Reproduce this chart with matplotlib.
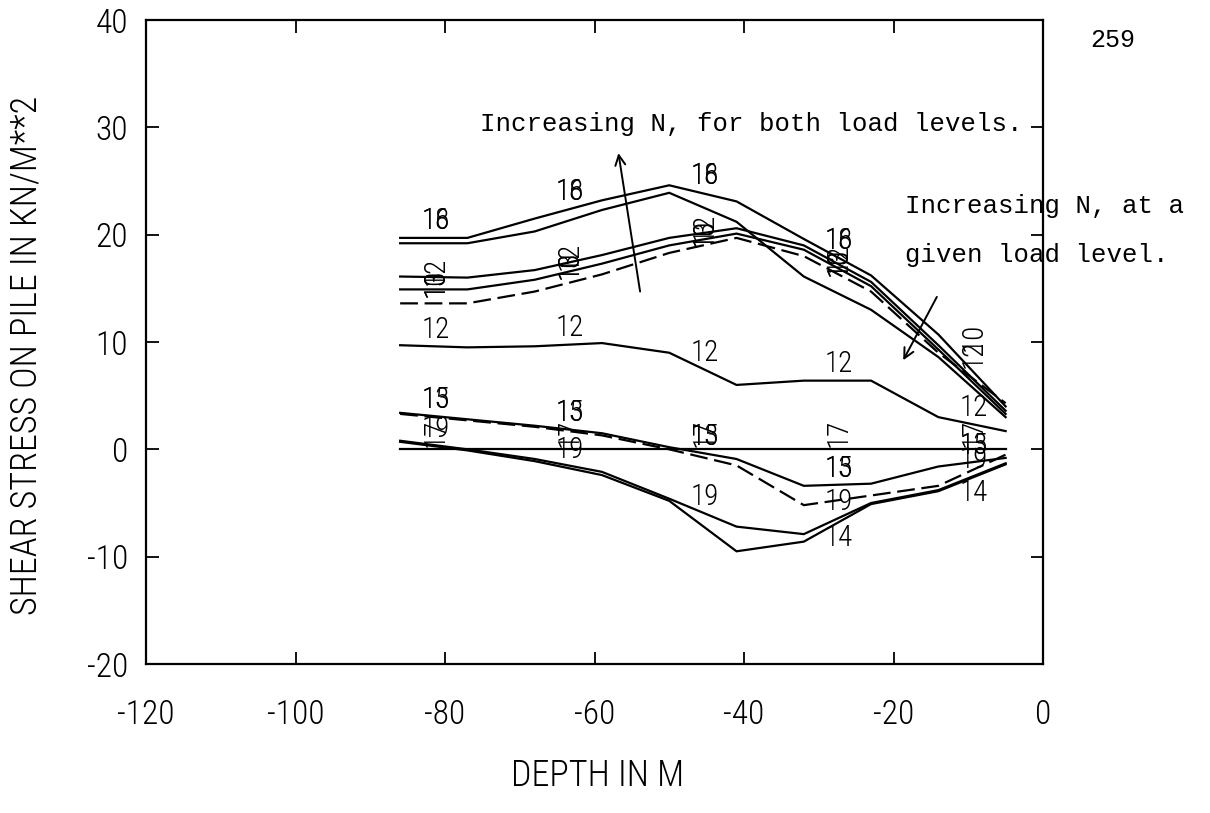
import numpy as np
import matplotlib
matplotlib.use("Agg")
import matplotlib.pyplot as plt

# depth stations along the pile (m)
depth = [-86, -77, -68, -59, -50, -41, -32, -23, -14, -5]

# shear stress on pile (kN/m^2), higher load level
tau_18 = [19.7, 19.7, 21.5, 23.2, 24.6, 23.1, 19.6, 16.2, 10.7, 4.0]
tau_16 = [19.2, 19.2, 20.3, 22.3, 23.9, 21.2, 16.1, 13.0, 8.6, 3.0]
tau_12b = [16.1, 16.0, 16.7, 18.1, 19.7, 20.6, 19.0, 15.6, 9.7, 3.6]
tau_10 = [14.9, 14.9, 15.8, 17.3, 19.0, 20.1, 18.6, 15.2, 9.3, 3.3]
tau_13b = [13.6, 13.6, 14.7, 16.3, 18.3, 19.7, 18.0, 14.7, 9.0, 4.3]
tau_12 = [9.7, 9.5, 9.6, 9.9, 9.0, 6.0, 6.4, 6.4, 3.0, 1.7]

# shear stress on pile (kN/m^2), lower load level
tau_13 = [3.4, 2.8, 2.2, 1.5, 0.2, -0.9, -3.4, -3.2, -1.6, -0.8]
tau_15 = [3.3, 2.7, 2.1, 1.3, 0.0, -1.5, -5.2, -4.3, -3.4, -0.5]
tau_17 = [0.0, 0.0, 0.0, 0.0, 0.0, 0.0, 0.0, 0.0, 0.0, 0.0]
tau_19 = [0.8, 0.0, -0.9, -2.1, -4.6, -7.2, -7.9, -5.0, -3.8, -1.3]
tau_14 = [0.7, -0.1, -1.1, -2.4, -4.8, -9.5, -8.6, -5.1, -3.9, -1.4]

# depths where the curve numbers are written
label_depths = [-81.3, -63.3, -45.3, -27.3, -9.3]

x_ticks = [-120, -100, -80, -60, -40, -20, 0]
y_ticks = [-20, -10, 0, 10, 20, 30, 40]

plot_font = ["Roboto Condensed", "Open Sans Condensed", "DejaVu Sans Condensed",
             "Liberation Sans Narrow", "DejaVu Sans"]
type_font = ["Liberation Mono", "DejaVu Sans Mono"]

# (values, linestyle)
curves = [
    (tau_18, "-"), (tau_16, "-"), (tau_12b, "-"), (tau_10, "-"),
    (tau_13b, (0, (8, 3))), (tau_12, "-"),
    (tau_13, "-"), (tau_15, (0, (8, 3))), (tau_17, "-"),
    (tau_19, "-"), (tau_14, "-"),
]

inner = label_depths[:4]
outer = label_depths[4:]

# curve numbers: (text, curve it is written on, rotation, alignment, offset, depths)
curve_labels = [
    ("18", tau_18, 0, "bottom", 0.3, inner),
    ("16", tau_18, 0, "bottom", 0.3, inner),
    ("12", tau_12b, 90, "center", 0.6, inner),
    ("10", tau_10, 90, "center", 0.6, inner),
    ("13", tau_10, 90, "center", 0.6, inner),
    ("12", tau_18, 90, "bottom", 0.4, outer),
    ("10", tau_18, 90, "bottom", 2.0, outer),
    ("12", tau_12, 0, "bottom", 0.2, label_depths),
    ("13", tau_13, 0, "bottom", 0.2, label_depths),
    ("15", tau_13, 0, "bottom", 0.2, label_depths),
    ("17", tau_17, 90, "bottom", 0.2, label_depths),
    ("19", tau_19, 0, "bottom", 0.2, label_depths),
    ("14", tau_14, 0, "top", -0.2, label_depths[3:]),
]

fig = plt.figure(figsize=(12.1, 8.13), dpi=100)
ax = fig.add_axes([146 / 1210, 1 - 664 / 813, (1043 - 146) / 1210, (664 - 20) / 813])

for values, ls in curves:
    ax.plot(depth, values, color="black", lw=1.6, ls=ls, solid_joinstyle="miter")

for text, values, rot, va, dy, where in curve_labels:
    for xd in where:
        yv = float(np.interp(xd, depth, values)) + dy
        ax.text(xd, yv, text, rotation=rot, ha="center", va=va,
                fontsize=21, family=plot_font, fontweight="light", color="black")

ax.set_xlim(-120, 0)
ax.set_ylim(-20, 40)
ax.set_xticks(x_ticks)
ax.set_yticks(y_ticks)
ax.set_xticklabels([str(v) for v in x_ticks], family=plot_font, fontsize=24,
                   fontweight="light")
ax.set_yticklabels([str(v) for v in y_ticks], family=plot_font, fontsize=24,
                   fontweight="light")
ax.tick_params(axis="both", direction="in", length=9, width=1.3,
               top=True, right=True)
ax.tick_params(axis="x", pad=25)
ax.tick_params(axis="y", pad=13)
for s in ax.spines.values():
    s.set_linewidth(1.6)

fig.text(27 / 1210, 1 - 355 / 813, "SHEAR STRESS ON PILE IN KN/M**2",
         rotation=90, ha="center", va="center", fontsize=26, family=plot_font,
         fontweight="light")
fig.text(598 / 1210, 1 - 776 / 813, "DEPTH IN M", ha="center", va="center",
         fontsize=26, family=plot_font, fontweight="light")
fig.text(1113 / 1210, 1 - 40 / 813, "259", ha="center", va="center",
         fontsize=18, family=type_font)

# annotations
ax.annotate("", xy=(-56.8, 27.6), xytext=(-53.9, 14.7),
            arrowprops=dict(arrowstyle="->", lw=1.4, color="black",
                            mutation_scale=18, shrinkA=0, shrinkB=0))
ax.annotate("", xy=(-18.7, 8.3), xytext=(-14.2, 14.2),
            arrowprops=dict(arrowstyle="->", lw=1.4, color="black",
                            mutation_scale=18, shrinkA=0, shrinkB=0))
ax.text(-75.3, 29.7, "Increasing N, for both load levels.", ha="left",
        va="baseline", fontsize=18.5, family=type_font, clip_on=False)
ax.text(-18.5, 22.0, "Increasing N, at a", ha="left", va="baseline",
        fontsize=18.5, family=type_font, clip_on=False)
ax.text(-18.5, 17.45, "given load level.", ha="left", va="baseline",
        fontsize=18.5, family=type_font, clip_on=False)

fig.savefig("out.png", dpi=100)
